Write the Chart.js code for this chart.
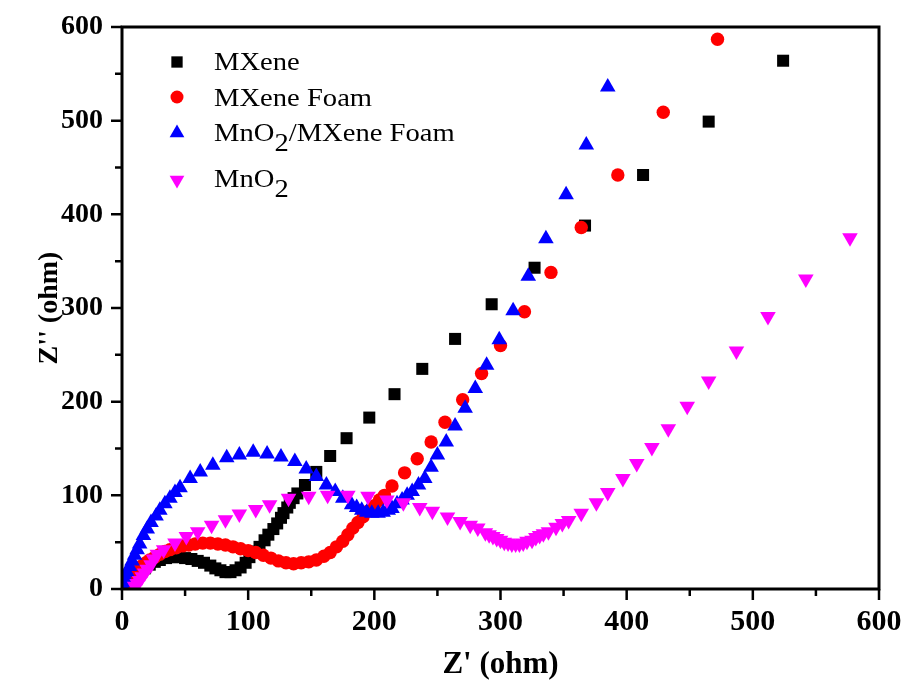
<!DOCTYPE html>
<html>
<head>
<meta charset="utf-8">
<script src="https://cdn.jsdelivr.net/npm/chart.js@4.4.0/dist/chart.umd.min.js"></script>
<style>
  body { margin: 0; background: #fff; }
  #wrap { width: 906px; height: 689px; }
</style>
</head>
<body>
<div id="wrap"><canvas id="c" width="906" height="689"></canvas></div>
<script>
// Nyquist data: [Z', Z''] in ohm
const mxene = [
  [6, 3], [9, 8], [12, 13], [15, 18], [18, 22], [22, 26], [26, 29], [30, 31], [35, 33],
  [40, 34], [45, 34], [50, 33], [55, 32], [60, 30], [65, 28], [70, 25], [74, 22],
  [78, 20], [82, 18], [86, 18], [90, 20], [94, 23], [98, 28], [101, 34], [105, 40],
  [109, 45], [113, 52], [116, 58], [120, 64], [123, 70], [126, 76], [128, 81],
  [131, 87], [133, 92], [136, 97], [139, 102], [145, 111], [154, 125], [165, 142],
  [178, 161], [196, 183], [216, 208], [238, 235], [264, 267], [293, 304], [327, 343],
  [367, 388], [413, 442], [465, 499], [524, 564]
];
const mxeneFoam = [
  [2, 2], [4, 6], [6, 10], [8, 14], [10, 18], [13, 22], [16, 25], [19, 28], [22, 31],
  [26, 34], [30, 37], [34, 40], [38, 42], [43, 44], [48, 46], [53, 47], [58, 48],
  [64, 49], [70, 49], [76, 48], [82, 47], [88, 45], [94, 43], [100, 41], [106, 39],
  [112, 36], [118, 33], [124, 30], [130, 28], [136, 27], [142, 28], [148, 29],
  [154, 31], [160, 35], [165, 39], [170, 45], [175, 51], [179, 58], [183, 65],
  [187, 71], [191, 77], [195, 83], [200, 89], [204, 95], [208, 100], [214, 110],
  [224, 124], [234, 139], [245, 157], [256, 178], [270, 202], [285, 230], [300, 260],
  [319, 296], [340, 338], [364, 386], [393, 442], [429, 509], [472, 587]
];
const mno2MxeneFoam = [
  [1, 2], [2, 7], [3, 12], [4, 18], [6, 24], [8, 30], [10, 36], [12, 42], [14, 48],
  [17, 57], [20, 64], [23, 71], [27, 78], [30, 84], [34, 91], [38, 97], [42, 103],
  [46, 108], [54, 118], [62, 125], [72, 132], [83, 140], [93, 143], [104, 146],
  [115, 144], [126, 141], [137, 136], [146, 128], [154, 120], [162, 111], [169, 104],
  [175, 97], [182, 90], [186, 87], [190, 84], [194, 82], [198, 81], [203, 81],
  [207, 82], [211, 84], [214, 86], [218, 91], [222, 95], [226, 100], [230, 104],
  [235, 111], [240, 118], [245, 130], [250, 143], [257, 157], [264, 174], [272, 193],
  [280, 214], [289, 239], [299, 266], [310, 297], [322, 334], [336, 374], [352, 421],
  [368, 474], [385, 536]
];
const mno2 = [
  [10, 3], [12, 6], [14, 9], [16, 13], [18, 17], [20, 21], [23, 26], [25, 32],
  [28, 37], [33, 42], [42, 49], [51, 56], [60, 61], [71, 68], [82, 74], [93, 80],
  [106, 85], [117, 90], [132, 97], [148, 99], [163, 100], [179, 100], [195, 99],
  [210, 95], [223, 92], [236, 87], [246, 83], [258, 77], [268, 72], [276, 68],
  [282, 65], [288, 60], [291, 58], [294, 56], [297, 54], [300, 52], [303, 50],
  [306, 49], [309, 48], [312, 48], [315, 48], [318, 49], [321, 51], [325, 52],
  [328, 55], [331, 57], [334, 59], [338, 61], [344, 66], [349, 70], [354, 73],
  [364, 81], [376, 92], [385, 103], [397, 118], [408, 134], [420, 151], [433, 171],
  [448, 195], [465, 222], [487, 254], [512, 291], [542, 331], [577, 375]
];

const seriesNames = ['MXene', 'MXene Foam', 'MnO2/MXene Foam', 'MnO2'];
const seriesColors = ['#000000', '#ff0000', '#0000ff', '#ff00ff'];
const majorTicks = [0, 100, 200, 300, 400, 500, 600];
const minorTicks = [50, 150, 250, 350, 450, 550];

const toPoints = arr => arr.map(p => ({ x: p[0], y: p[1] }));

const serif = '"Liberation Serif", "Times New Roman", serif';

function marker(ctx, style, x, y, r, color) {
  ctx.save();
  ctx.fillStyle = color;
  ctx.beginPath();
  if (style === 'rect') {
    const s = r * Math.SQRT1_2;
    ctx.rect(x - s, y - s, 2 * s, 2 * s);
  } else if (style === 'circle') {
    ctx.arc(x, y, r, 0, Math.PI * 2);
  } else {
    const dir = style === 'down' ? -1 : 1;
    const h = r * Math.cos(Math.PI / 3);
    const w = r * Math.sin(Math.PI / 3);
    ctx.moveTo(x, y - dir * r);
    ctx.lineTo(x + w, y + dir * h);
    ctx.lineTo(x - w, y + dir * h);
    ctx.closePath();
  }
  ctx.fill();
  ctx.restore();
}

// frame, major/minor ticks and the legend (with subscripts)
const framePlugin = {
  id: 'frame',
  afterDatasetsDraw(chart) {
    const { ctx, chartArea: a, scales } = chart;
    ctx.save();
    ctx.strokeStyle = '#000';
    ctx.lineWidth = 3;
    ctx.strokeRect(a.left, a.top, a.right - a.left, a.bottom - a.top);

    ctx.lineWidth = 2.5;
    ctx.beginPath();
    majorTicks.forEach(v => {
      const px = scales.x.getPixelForValue(v);
      ctx.moveTo(px, a.bottom); ctx.lineTo(px, a.bottom + 11);
      const py = scales.y.getPixelForValue(v);
      ctx.moveTo(a.left, py); ctx.lineTo(a.left - 11, py);
    });
    minorTicks.forEach(v => {
      const px = scales.x.getPixelForValue(v);
      ctx.moveTo(px, a.bottom); ctx.lineTo(px, a.bottom + 7);
      const py = scales.y.getPixelForValue(v);
      ctx.moveTo(a.left, py); ctx.lineTo(a.left - 7, py);
    });
    ctx.stroke();

    // legend
    const styles = ['rect', 'circle', 'up', 'down'];
    const sizes = [8, 6.5, 8.5, 8.5];
    const rowY = [62, 97, 133, 180];
    const baseY = [70, 106, 141, 187];
    ctx.fillStyle = '#000';
    ctx.textBaseline = 'alphabetic';
    seriesNames.forEach((name, i) => {
      marker(ctx, styles[i], 177, rowY[i], sizes[i], seriesColors[i]);
      ctx.save();
      ctx.translate(214, baseY[i]);
      ctx.scale(1.1, 1);
      ctx.font = '26px ' + serif;
      ctx.fillStyle = '#000';
      let x = 0;
      const parts = name.split('2');
      parts.forEach((part, j) => {
        ctx.fillText(part, x, 0);
        x += ctx.measureText(part).width;
        if (j < parts.length - 1) {
          ctx.fillText('2', x, 10);
          x += ctx.measureText('2').width;
        }
      });
      ctx.restore();
    });
    ctx.restore();
  }
};

const pointStyles = ['rect', 'circle', 'triangle', 'triangle'];
const pointSizes = [8.5, 6.7, 9, 9];
const rotations = [0, 0, 0, 180];
const allData = [mxene, mxeneFoam, mno2MxeneFoam, mno2];

new Chart(document.getElementById('c'), {
  type: 'scatter',
  data: {
    datasets: allData.map((d, i) => ({
      label: seriesNames[i],
      data: toPoints(d),
      pointStyle: pointStyles[i],
      pointRadius: pointSizes[i],
      pointRotation: rotations[i],
      pointBackgroundColor: seriesColors[i],
      pointBorderWidth: 0,
      showLine: false,
      order: 4 - i
    }))
  },
  options: {
    responsive: false,
    animation: false,
    layout: { padding: { top: 27, right: 27, left: 0, bottom: 0 } },
    plugins: { legend: { display: false }, tooltip: { enabled: false } },
    scales: {
      x: {
        type: 'linear', min: 0, max: 600,
        afterFit(s) { s.height = 100; s.paddingLeft = 0; s.paddingRight = 0; },
        grid: { display: false, drawTicks: false },
        border: { display: false },
        ticks: {
          stepSize: 100, padding: 15, color: '#000', maxRotation: 0,
          font: { family: serif, size: 30, weight: 'bold' }
        },
        title: {
          display: true, text: "Z' (ohm)", color: '#000', padding: 5,
          font: { family: serif, size: 31, weight: 'bold' }
        }
      },
      y: {
        type: 'linear', min: 0, max: 600,
        afterFit(s) { s.width = 122; s.paddingTop = 0; s.paddingBottom = 0; },
        grid: { display: false, drawTicks: false },
        border: { display: false },
        ticks: {
          stepSize: 100, padding: 19, color: '#000',
          font: { family: serif, size: 28, weight: 'bold' }
        },
        title: {
          display: true, text: "Z'' (ohm)", color: '#000', padding: 33,
          font: { family: serif, size: 28, weight: 'bold' }
        }
      }
    }
  },
  plugins: [framePlugin]
});
</script>
</body>
</html>
